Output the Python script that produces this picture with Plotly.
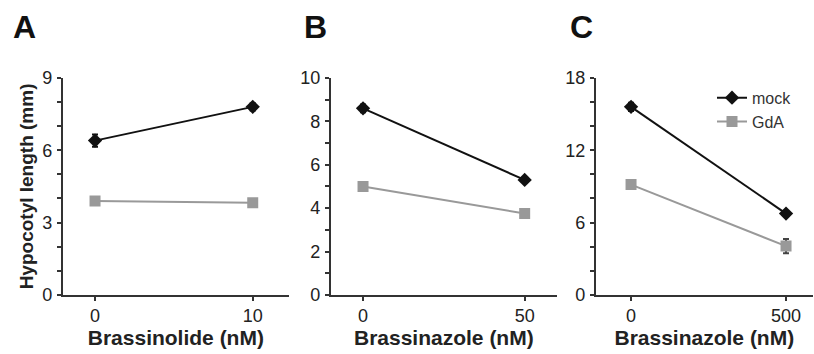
import plotly.graph_objects as go

W, H = 814, 354

# Data
panels = ["A", "B", "C"]
x_labels = ["Brassinolide (nM)", "Brassinazole (nM)", "Brassinazole (nM)"]
x_a = [0, 10]
x_b = [0, 50]
x_c = [0, 500]
mock_a = [6.4, 7.8]
mock_a_err = [0.25, 0.15]
gda_a = [3.9, 3.82]
gda_a_err = [0.08, 0.08]
mock_b = [8.6, 5.3]
mock_b_err = [0.18, 0.1]
gda_b = [5.0, 3.75]
gda_b_err = [0.08, 0.08]
mock_c = [15.6, 6.75]
mock_c_err = [0.35, 0.2]
gda_c = [9.15, 4.05]
gda_c_err = [0.15, 0.6]

xs = [x_a, x_b, x_c]
mocks = [(mock_a, mock_a_err), (mock_b, mock_b_err), (mock_c, mock_c_err)]
gdas = [(gda_a, gda_a_err), (gda_b, gda_b_err), (gda_c, gda_c_err)]

x_ranges = [[-2.05, 12.3], [-10, 60], [-114, 587]]
y_ranges = [[0, 9], [0, 10], [0, 18]]
y_major = [3, 2, 6]
y_minor = [1, 1, 2]
x_px = [(62.7, 289), (330.7, 557), (595.7, 813)]
y_px = (72, 302)

BLACK = "#111111"
GRAY = "#999999"
AX = "#333333"
TXT = "#222222"
FONT = "Liberation Sans, Arial, sans-serif"

fig = go.Figure()
layout = dict(
    width=W, height=H, margin=dict(l=0, r=0, t=0, b=0),
    paper_bgcolor="white", plot_bgcolor="white",
    font=dict(family=FONT, color=TXT, size=14),
    showlegend=True,
    legend=dict(x=(712) / W, y=1 - 75 / H, xanchor="left", yanchor="top",
                bgcolor="rgba(0,0,0,0)", font=dict(size=16, color="#333333"),
                itemwidth=30, tracegroupgap=0),
)

ydom = [1 - y_px[1] / H, 1 - y_px[0] / H]
annotations = []
for i in range(3):
    sfx = "" if i == 0 else str(i + 1)
    xa = "x" + sfx
    ya = "y" + sfx
    m, me = mocks[i]
    g, ge = gdas[i]
    fig.add_trace(go.Scatter(
        x=xs[i], y=m, xaxis=xa, yaxis=ya, mode="lines+markers", name="mock",
        line=dict(color=BLACK, width=2),
        marker=dict(symbol="diamond", size=11, color=BLACK),
        error_y=dict(type="data", array=me, color=BLACK, thickness=2, width=3),
        showlegend=(i == 2),
    ))
    fig.add_trace(go.Scatter(
        x=xs[i], y=g, xaxis=xa, yaxis=ya, mode="lines+markers", name="GdA",
        line=dict(color=GRAY, width=2),
        marker=dict(symbol="square", size=11, color=GRAY),
        error_y=dict(type="data", array=ge, color="#444444", thickness=2, width=3),
        showlegend=(i == 2),
    ))
    layout["xaxis" + sfx] = dict(
        domain=[x_px[i][0] / W, x_px[i][1] / W], anchor=ya,
        range=x_ranges[i], tickvals=xs[i], ticks="outside", ticklen=4,
        tickwidth=1.5, tickcolor=AX, showline=True, linecolor=AX, linewidth=1.5,
        showgrid=False, zeroline=False, tickfont=dict(size=18, color=TXT),
        title=dict(text="<b>" + x_labels[i] + "</b>", font=dict(size=21, color=TXT),
                   standoff=0),
        fixedrange=True,
    )
    layout["yaxis" + sfx] = dict(
        domain=ydom, anchor=xa, range=y_ranges[i], dtick=y_major[i],
        ticks="outside", ticklen=4, tickwidth=1.5, tickcolor=AX,
        minor=dict(dtick=y_minor[i], ticks="outside", ticklen=4, tickwidth=1.5, tickcolor=AX),
        showline=True, linecolor=AX, linewidth=1.5, showgrid=False, zeroline=False,
        tickfont=dict(size=18, color=TXT), ticklabelstandoff=1,
        fixedrange=True,
    )
    if i == 0:
        layout["yaxis"]["title"] = dict(text="<b>Hypocotyl length (mm)</b>",
                                        font=dict(size=19, color=TXT), standoff=4)

letter_x = [11, 302, 568]
for i, p in enumerate(panels):
    annotations.append(dict(text="<b>" + p + "</b>", x=letter_x[i] / W, y=1 - 18 / H,
                            xref="paper", yref="paper", xanchor="left", yanchor="middle",
                            showarrow=False, font=dict(size=32, color="#111111")))
layout["annotations"] = annotations
fig.update_layout(**layout)
fig.write_html("out.html")
